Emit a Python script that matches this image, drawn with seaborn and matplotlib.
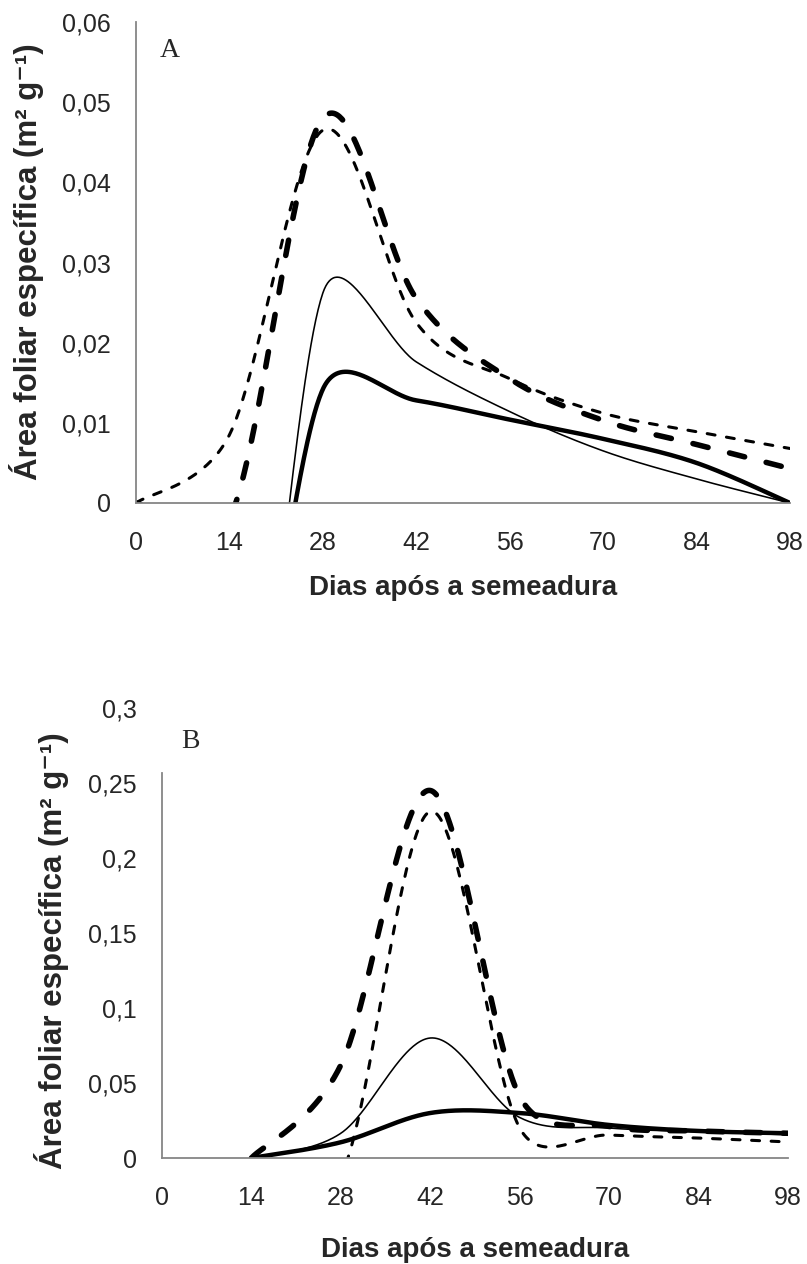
import numpy as np
import matplotlib
matplotlib.use("Agg")
import matplotlib.pyplot as plt
import seaborn as sns

#####################################
# data (m2 g-1)
#####################################
days = [0, 14, 28, 42, 56, 70, 84, 98]
x_tick_labels = ["0", "14", "28", "42", "56", "70", "84", "98"]

# panel A
a_days = [0, 14, 28, 42, 56, 70, 84, 98]
a_short_dash = [0.0, 0.0085, 0.0465, 0.0225, 0.0155, 0.0112, 0.0089, 0.0068]
a_long_dash = [0.0, -0.002, 0.048, 0.0255, 0.0155, 0.0103, 0.0073, 0.0043]
a_thin_solid = [0.0, -0.05, 0.0262, 0.0176, 0.0114, 0.0065, 0.0030, 0.0]
a_thick_solid = [0.0, -0.038, 0.0142, 0.0128, 0.0104, 0.0080, 0.0050, 0.0]
a_yticks = [0, 0.01, 0.02, 0.03, 0.04, 0.05, 0.06]
a_ytick_labels = ["0", "0,01", "0,02", "0,03", "0,04", "0,05", "0,06"]

# panel B
b_days = [14, 28, 42, 56, 70, 84, 98]
b_short_dash = [0.0, -0.012, 0.231, 0.020, 0.0153, 0.0133, 0.0107]
b_long_dash = [0.0, 0.062, 0.245, 0.041, 0.021, 0.018, 0.0165]
b_thin_solid = [0.0, 0.0165, 0.080, 0.027, 0.020, 0.0175, 0.0155]
b_thick_solid = [0.0, 0.0105, 0.030, 0.030, 0.022, 0.018, 0.0165]
b_yticks = [0, 0.05, 0.1, 0.15, 0.2, 0.25, 0.3]
b_ytick_labels = ["0", "0,05", "0,1", "0,15", "0,2", "0,25", "0,3"]

ylabel = "Área foliar específica (m² g⁻¹)"
xlabel = "Dias após a semeadura"

sns.set_style("white")
plt.rcParams["font.family"] = ["Liberation Sans", "DejaVu Sans"]

W, H = 807, 1264
fig = plt.figure(figsize=(W / 100, H / 100), dpi=100)


def add_axes_px(left, right, bottom, top):
    return fig.add_axes([left / W, 1 - bottom / H, (right - left) / W, (bottom - top) / H])


#####################################
# spreadsheet style smoothed line (bezier through the points)
#####################################
def smooth_curve(x, y, sx, sy, n=80):
    P = np.column_stack([np.asarray(x, float) * sx, np.asarray(y, float) * sy])
    t = np.linspace(0, 1, n)[:, None]
    out = [P[:1]]
    for i in range(len(P) - 1):
        p0 = P[max(i - 1, 0)]
        p1, p2 = P[i], P[i + 1]
        p3 = P[min(i + 2, len(P) - 1)]
        seg = np.linalg.norm(p2 - p1)
        a1 = (p2 - p0) / 6
        a2 = (p3 - p1) / 6
        if np.linalg.norm(a1) > seg / 2:
            a1 = a1 * (seg / 2) / np.linalg.norm(a1)
        if np.linalg.norm(a2) > seg / 2:
            a2 = a2 * (seg / 2) / np.linalg.norm(a2)
        c1, c2 = p1 + a1, p2 - a2
        b = ((1 - t) ** 3) * p1 + 3 * ((1 - t) ** 2) * t * c1 + 3 * (1 - t) * t ** 2 * c2 + t ** 3 * p2
        out.append(b[1:])
    out = np.vstack(out)
    return out[:, 0] / sx, out[:, 1] / sy


styles = {
    "short": dict(linewidth=2.2, linestyle=(0, (2.6, 3.8)), dash_capstyle="round"),
    "long": dict(linewidth=4.0, linestyle=(0, (2.8, 4.0)), dash_capstyle="round"),
    "thin": dict(linewidth=1.15, linestyle="-", solid_capstyle="round"),
    "thick": dict(linewidth=3.2, linestyle="-", solid_capstyle="round"),
}


def draw_panel(ax, px_box, xs, series, ylim, yticks, yticklabels, spine_top):
    left, right, bottom, top = px_box
    sx = (right - left) / 98.0
    sy = (bottom - top) / (ylim[1] - ylim[0])
    for key, vals in series:
        cx, cy = smooth_curve(xs, vals, sx, sy)
        sns.lineplot(x=cx, y=cy, ax=ax, sort=False, estimator=None, color="black", **styles[key])

    ax.set_xlim(0, 98)
    ax.set_ylim(*ylim)
    ax.set_xticks(days)
    ax.set_xticklabels(x_tick_labels, fontsize=18)
    ax.set_yticks(yticks)
    ax.set_yticklabels(yticklabels, fontsize=18)
    ax.tick_params(axis="both", length=0)
    ax.tick_params(axis="y", pad=18)
    ax.tick_params(axis="x", pad=20)
    for s in ["top", "right"]:
        ax.spines[s].set_visible(False)
    for s in ["left", "bottom"]:
        ax.spines[s].set_color("#868686")
        ax.spines[s].set_linewidth(1.3)
    ax.spines["left"].set_bounds(0, spine_top)

    ax.set_xlabel(xlabel, fontsize=20, fontweight="bold", va="center")
    ax.set_ylabel(ylabel, fontsize=22.5, fontweight="bold", va="center")
    ax.grid(False)


def px_to_axes(px_box, x, y):
    left, right, bottom, top = px_box
    return (x - left) / (right - left), (bottom - y) / (bottom - top)


boxA = (136, 790, 503, 22)
axA = add_axes_px(*boxA)
draw_panel(axA, boxA, a_days,
           [("short", a_short_dash), ("long", a_long_dash), ("thin", a_thin_solid), ("thick", a_thick_solid)],
           (0, 0.06), a_yticks, a_ytick_labels, 0.06)
axA.xaxis.set_label_coords(*px_to_axes(boxA, 463, 588))
axA.yaxis.set_label_coords(*px_to_axes(boxA, 27, 262))
axA.text(*px_to_axes(boxA, 170, 50), "A", transform=axA.transAxes,
         fontsize=20, family="Liberation Serif", ha="center", va="center")

boxB = (162, 788, 1158, 708)
axB = add_axes_px(*boxB)
draw_panel(axB, boxB, b_days,
           [("short", b_short_dash), ("long", b_long_dash), ("thin", b_thin_solid), ("thick", b_thick_solid)],
           (0, 0.3), b_yticks, b_ytick_labels, 0.257)
axB.xaxis.set_label_coords(*px_to_axes(boxB, 475, 1250))
axB.yaxis.set_label_coords(*px_to_axes(boxB, 52, 951))
axB.text(*px_to_axes(boxB, 190, 742), "B", transform=axB.transAxes,
         fontsize=20, family="Liberation Serif", ha="center", va="center")

fig.savefig("out.png", dpi=100, facecolor="white")
